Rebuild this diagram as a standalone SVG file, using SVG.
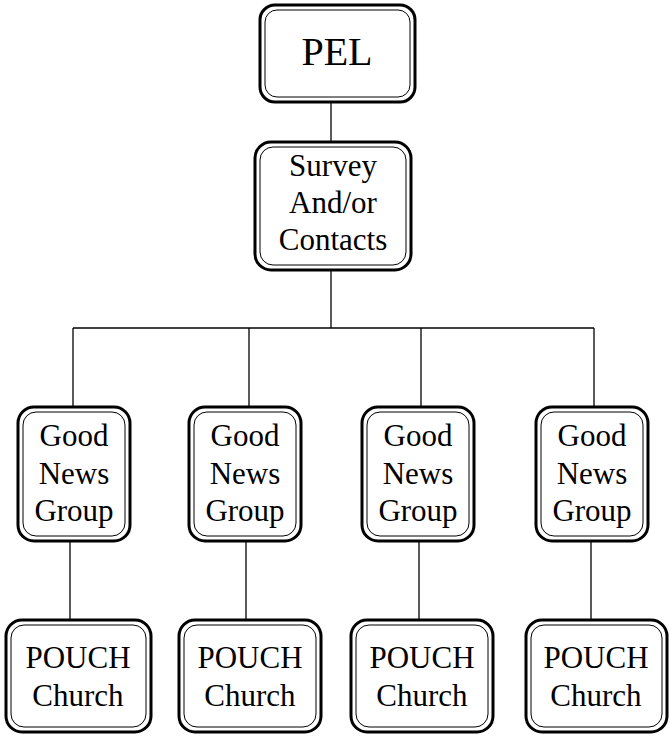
<svg xmlns="http://www.w3.org/2000/svg" width="670" height="736" viewBox="0 0 670 736">
  <style>
    .outer { fill: #ffffff; stroke: #000000; stroke-width: 3; }
    .inner { fill: none; stroke: #000000; stroke-width: 1; }
    .lbl { font-family: "Liberation Serif", "Times New Roman", serif; font-size: 31px; fill: #000000; text-anchor: middle; }
    .big { font-size: 40px; }
    .wire { stroke: #000000; stroke-width: 1.3; fill: none; }
  </style>

  <!-- connectors -->
  <g id="connectors">
    <line class="wire" x1="331" y1="102" x2="331" y2="142"/>
    <line class="wire" x1="331" y1="270" x2="331" y2="328"/>
    <line class="wire" x1="73" y1="328" x2="594" y2="328"/>
    <line class="wire" x1="73" y1="328" x2="73" y2="407"/>
    <line class="wire" x1="249" y1="328" x2="249" y2="407"/>
    <line class="wire" x1="421" y1="328" x2="421" y2="407"/>
    <line class="wire" x1="594" y1="328" x2="594" y2="407"/>
    <line class="wire" x1="70" y1="541" x2="70" y2="620"/>
    <line class="wire" x1="246" y1="541" x2="246" y2="620"/>
    <line class="wire" x1="419" y1="541" x2="419" y2="620"/>
    <line class="wire" x1="591" y1="541" x2="591" y2="620"/>
  </g>

  <g id="pel">
    <rect class="outer" x="260" y="5" width="155" height="97" rx="15"/>
    <rect class="inner" x="265" y="10" width="145" height="87" rx="12"/>
    <text class="lbl big" x="337" y="65">PEL</text>
  </g>

  <g id="survey">
    <rect class="outer" x="255" y="142" width="156" height="128" rx="16"/>
    <rect class="inner" x="260" y="147" width="146" height="118" rx="13"/>
    <text class="lbl" x="333" y="176">Survey</text>
    <text class="lbl" x="333" y="213">And/or</text>
    <text class="lbl" x="333" y="250">Contacts</text>
  </g>

  <g id="gng1">
    <rect class="outer" x="18" y="407" width="112" height="134" rx="16"/>
    <rect class="inner" x="23" y="412" width="102" height="124" rx="13"/>
    <text class="lbl" x="74" y="446">Good</text>
    <text class="lbl" x="74" y="484">News</text>
    <text class="lbl" x="74" y="521">Group</text>
  </g>
  <g id="gng2">
    <rect class="outer" x="189" y="407" width="112" height="134" rx="16"/>
    <rect class="inner" x="194" y="412" width="102" height="124" rx="13"/>
    <text class="lbl" x="245" y="446">Good</text>
    <text class="lbl" x="245" y="484">News</text>
    <text class="lbl" x="245" y="521">Group</text>
  </g>
  <g id="gng3">
    <rect class="outer" x="362" y="407" width="112" height="134" rx="16"/>
    <rect class="inner" x="367" y="412" width="102" height="124" rx="13"/>
    <text class="lbl" x="418" y="446">Good</text>
    <text class="lbl" x="418" y="484">News</text>
    <text class="lbl" x="418" y="521">Group</text>
  </g>
  <g id="gng4">
    <rect class="outer" x="536" y="407" width="112" height="134" rx="16"/>
    <rect class="inner" x="541" y="412" width="102" height="124" rx="13"/>
    <text class="lbl" x="592" y="446">Good</text>
    <text class="lbl" x="592" y="484">News</text>
    <text class="lbl" x="592" y="521">Group</text>
  </g>

  <g id="pouch1">
    <rect class="outer" x="6" y="620" width="145" height="112" rx="16"/>
    <rect class="inner" x="11" y="625" width="135" height="102" rx="13"/>
    <text class="lbl" x="78" y="668">POUCH</text>
    <text class="lbl" x="78" y="706">Church</text>
  </g>
  <g id="pouch2">
    <rect class="outer" x="179" y="620" width="142" height="112" rx="16"/>
    <rect class="inner" x="184" y="625" width="132" height="102" rx="13"/>
    <text class="lbl" x="250" y="668">POUCH</text>
    <text class="lbl" x="250" y="706">Church</text>
  </g>
  <g id="pouch3">
    <rect class="outer" x="351" y="620" width="142" height="112" rx="16"/>
    <rect class="inner" x="356" y="625" width="132" height="102" rx="13"/>
    <text class="lbl" x="422" y="668">POUCH</text>
    <text class="lbl" x="422" y="706">Church</text>
  </g>
  <g id="pouch4">
    <rect class="outer" x="526" y="620" width="141" height="112" rx="16"/>
    <rect class="inner" x="531" y="625" width="131" height="102" rx="13"/>
    <text class="lbl" x="596" y="668">POUCH</text>
    <text class="lbl" x="596" y="706">Church</text>
  </g>
</svg>
